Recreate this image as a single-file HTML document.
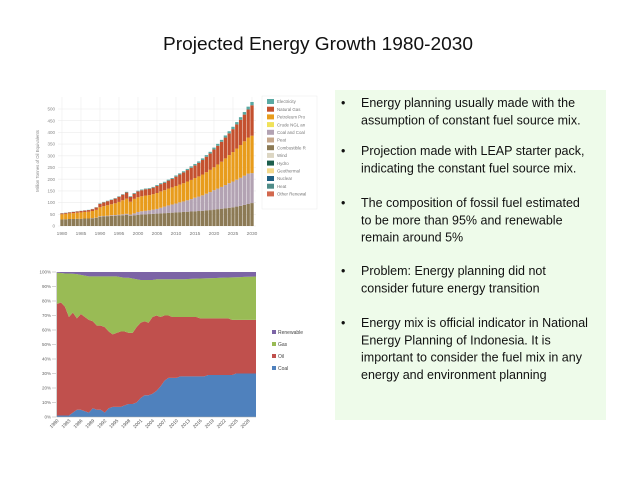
<!DOCTYPE html>
<html><head><meta charset="utf-8"><style>
html,body{margin:0;padding:0;background:#fff;width:638px;height:479px;overflow:hidden;font-family:"Liberation Sans",sans-serif}
</style></head><body>
<svg id="s" width="638" height="479" viewBox="0 0 638 479" xmlns="http://www.w3.org/2000/svg">
<text x="318" y="50" text-anchor="middle" font-size="18" fill="#111" textLength="310" lengthAdjust="spacingAndGlyphs">Projected Energy Growth 1980-2030</text>
<rect x="335" y="90" width="271" height="330" fill="#eefbea"/>
<g id="bul" font-size="12.5" fill="#111"></g>
<g id="top"></g>
<g id="bot"></g>
</svg>
<script>
const NS="http://www.w3.org/2000/svg";
function mk(p,t,a){const e=document.createElementNS(NS,t);for(const k in a)e.setAttribute(k,a[k]);p.appendChild(e);return e;}

// Bullets
const bulletLines=[
 ["Energy planning usually made with the","assumption of constant fuel source mix."],
 ["Projection made with LEAP starter pack,","indicating the constant fuel source mix."],
 ["The composition of fossil fuel estimated","to be more than 95% and renewable","remain around 5%"],
 ["Problem: Energy planning did not","consider future energy transition"],
 ["Energy mix is official indicator in National","Energy Planning of Indonesia. It is","important to consider the fuel mix in any","energy and environment planning"]];
const bulletY=[107,155,207,275,327];
const bg=document.getElementById('bul');
bulletLines.forEach((ls,i)=>{
  const b=mk(bg,'text',{x:341,y:bulletY[i]});b.textContent='•';
  
  
  ls.forEach((l,j)=>{const t=mk(bg,'text',{x:361,y:bulletY[i]+j*17.3});t.textContent=l;
    
    });
});

// Top chart data
const years=[];for(let y=1980;y<=2030;y++)years.push(y);
const combustible=[28,29,30,30,31,31,32,32,33,35,40,41,42,43,44,45,46,47,44,46,48,49,50,51,52,53,54,55,56,57,58,59,60,61,62,63,64,65,67,68,70,72,74,76,78,80,83,86,90,94,98];
const coal=[0,0,0,0,0,0,0,0,1,1,2,2,2,3,3,3,4,5,5,8,12,14,15,16,18,20,24,28,32,35,38,42,45,49,53,58,62,66,71,77,83,88,93,99,105,110,115,120,125,130,128];
const petroleum=[22,23,24,25,26,27,28,29,30,33,38,42,45,47,50,55,60,65,55,62,63,64,65,65,66,68,70,70,72,73,75,76,78,80,82,84,86,89,92,95,98,103,108,114,120,126,133,140,147,154,160];
const naturalGas=[4,4,4,5,5,6,6,7,8,10,15,16,17,18,20,22,24,26,20,22,25,26,27,27,28,30,31,32,34,36,40,43,46,49,52,54,58,62,66,70,76,80,85,89,93,98,103,108,114,120,130];
const electricity=[1,1,1,1,1,1,1,1,1,1,2,2,2,2,2,2,2,3,3,3,3,3,3,3,3,4,4,4,4,4,5,5,5,5,6,6,6,7,7,7,8,8,8,9,9,10,10,11,11,12,14];
const yTicks=[0,50,100,150,200,250,300,350,400,450,500];
const xTicks=[1980,1985,1990,1995,2000,2005,2010,2015,2020,2025,2030];
const legendTop=["Electricity","Natural Gas","Petroleum Pro","Crude NGL an","Coal and Coal","Peat","Combustible R","Wind","Hydro","Geothermal","Nuclear","Heat","Other Renewal"];
const legendTopColors=["#5aa9a3","#c4512f","#e89c1c","#f0e25a","#b3a3b3","#c6a78b","#8c7a55","#dcd6c3","#1d5e4c","#f3d88a","#1f5f82","#4f8c88","#d2684e"];

const T=document.getElementById('top');
const tx=y=>62+(y-1980)*(190/50), ty=v=>226-v*(117/500);
yTicks.forEach(v=>{mk(T,'line',{x1:58,x2:256,y1:ty(v),y2:ty(v),stroke:'#ececec','stroke-width':0.6});
 const t=mk(T,'text',{x:55,y:ty(v)+1.6,'font-size':4.5,fill:'#888','text-anchor':'end'});t.textContent=v;
 });
xTicks.forEach(y=>{mk(T,'line',{x1:tx(y),x2:tx(y),y1:97,y2:227,stroke:'#ececec','stroke-width':0.6});
 const t=mk(T,'text',{x:tx(y),y:235,'font-size':4.8,fill:'#777','text-anchor':'middle'});t.textContent=y;
 });
const yt=mk(T,'text',{x:0,y:0,'font-size':4.3,fill:'#888','text-anchor':'middle',transform:'translate(39,161) rotate(-90)'});
yt.textContent='Million Tonnes of Oil Equivalents';

const stackSeries=[[combustible,"#8c7a55"],[coal,"#b3a3b3"],[petroleum,"#e89c1c"],[naturalGas,"#c4512f"],[electricity,"#5aa9a3"]];
const bw=190/50*0.88;
years.forEach((y,i)=>{let base=0;
 stackSeries.forEach(([arr,c])=>{const v=arr[i];
  const r=mk(T,'rect',{x:tx(y)-bw/2,y:ty(base+v),width:bw,height:Math.max(0,ty(base)-ty(base+v)),fill:c});
  
  base+=v;});});
mk(T,'rect',{x:262,y:96,width:55,height:113,fill:'#fff',stroke:'#eee','stroke-width':0.6});
legendTop.forEach((n,i)=>{const yy=99+i*7.7;
 const s=mk(T,'rect',{x:267,y:yy,width:7,height:5,fill:legendTopColors[i]});
 
 const t=mk(T,'text',{x:277,y:yy+4.2,'font-size':4.4,fill:'#777'});t.textContent=n;
 });

// Bottom chart data
const shareCoal=[1,1,1,1,3,5,5,4,3,6,5,5,3,6,7,7,7,8,9,9,10,13,15,15,16,18,21,25,27,27,27,28,28,28,28,28,28,28,29,29,29,29,29,29,29,30,30,30,30,30,30];
const shareOil=[77,78,75,68,69,63,66,65,64,60,58,58,59,53,50,51,52,51,49,49,52,52,51,50,53,52,48,45,43,42,42,41,41,41,41,41,40,40,39,39,39,39,39,39,38,37,37,37,37,37,37];
const shareGas=[21.5,20.3,23,30,26.8,30.5,27,28.5,30,31,34,34,35,38,40,39,37.5,37,38,37.5,33,29.5,28.5,29.5,25.5,25,26,25,25,26,26,26,26,26.2,26.3,26.4,27.5,27.6,27.7,27.8,27.9,28,28.1,28.2,29.3,29.4,29.5,29.6,29.7,29.8,29.9];
const shareRenew=[0.5,0.7,1,1,1.2,1.5,2,2.5,3,3,3,3,3,3,3,3,3.5,4,4,4.5,5,5.5,5.5,5.5,5.5,5,5,5,5,5,5,5,5,4.8,4.7,4.6,4.5,4.4,4.3,4.2,4.1,4,3.9,3.8,3.7,3.6,3.5,3.4,3.3,3.2,3.1];
const pctTicks=[0,10,20,30,40,50,60,70,80,90,100];
const bxTicks=[1980,1983,1986,1989,1992,1995,1998,2001,2004,2007,2010,2013,2016,2019,2022,2025,2028];
const legendBot=["Renewable","Gas","Oil","Coal"];
const legendBotColors=["#7c64a6","#99bb55","#c0504d","#4f81bd"];

const B=document.getElementById('bot');
const bx=y=>57+(y-1980)*(199/50), by=p=>417-p*1.45;
pctTicks.forEach(p=>{const t=mk(B,'text',{x:51,y:by(p)+1.6,'font-size':4.5,fill:'#666','text-anchor':'end'});t.textContent=p+'%';
 
 mk(B,'line',{x1:52,x2:56,y1:by(p),y2:by(p),stroke:'#aaa','stroke-width':0.5});});
bxTicks.forEach(y=>{const t=mk(B,'text',{x:0,y:0,'font-size':4.8,fill:'#555','text-anchor':'end',transform:`translate(${bx(y)+2},${421}) rotate(-45)`});t.textContent=y;
 });
const areas=[[shareCoal,"#4f81bd","coal-area"],[shareOil,"#c0504d","oil-area"],[shareGas,"#99bb55","gas-area"],[shareRenew,"#7c64a6","renewable-area"]];
const tot=years.map((y,i)=>shareCoal[i]+shareOil[i]+shareGas[i]+shareRenew[i]);
let cum=years.map(()=>0);
areas.forEach(([arr,c,nm])=>{
 const lo=cum.slice(), hi=cum.map((v,i)=>v+arr[i]/tot[i]*100);
 let d=years.map((y,i)=>(i?'L':'M')+bx(y).toFixed(2)+','+by(hi[i]).toFixed(2)).join('');
 for(let i=years.length-1;i>=0;i--)d+='L'+bx(years[i]).toFixed(2)+','+by(lo[i]).toFixed(2);
 const p=mk(B,'path',{d:d+'Z',fill:c});
 
 cum=hi;});
mk(B,'line',{x1:56.5,x2:56.5,y1:272,y2:417,stroke:'#aaa','stroke-width':0.5});
mk(B,'line',{x1:56.5,x2:256,y1:417,y2:417,stroke:'#aaa','stroke-width':0.5});
legendBot.forEach((n,i)=>{const yy=332+i*12;
 const s=mk(B,'rect',{x:272,y:yy-2,width:4,height:4,fill:legendBotColors[i]});
 
 const t=mk(B,'text',{x:278,y:yy+1.8,'font-size':5,fill:'#444'});t.textContent=n;
 });
</script>
</body></html>
